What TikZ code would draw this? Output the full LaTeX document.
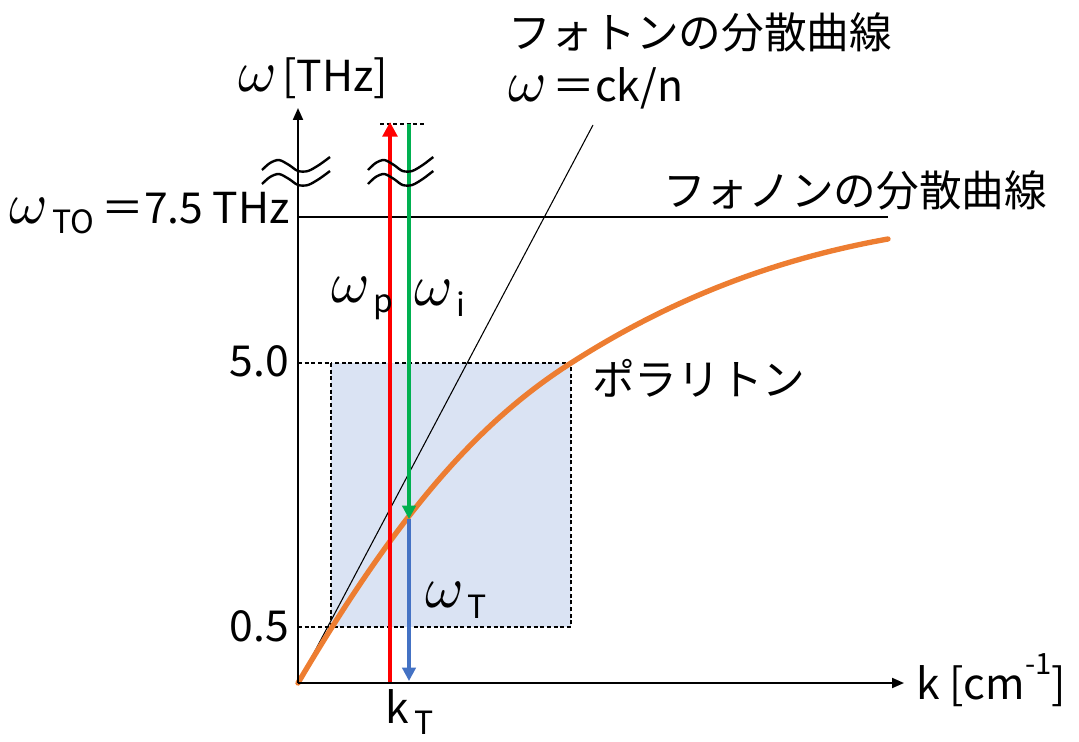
\documentclass[tikz,border=0pt]{standalone}
\usepackage{fontspec}
\usepackage{unicode-math}
\setmainfont{Noto Sans CJK JP}
\usetikzlibrary{arrows.meta}
\newcommand{\om}{{\fontsize{44}{48}\selectfont$\omega$}}
\newcommand{\lsub}[1]{\raisebox{-0.45ex}{\fontsize{24}{28}\selectfont\,#1}}
\definecolor{cred}{HTML}{FF0000}
\definecolor{cgreen}{HTML}{00B050}
\definecolor{cblue}{HTML}{4472C4}
\definecolor{corange}{HTML}{ED7D31}
\definecolor{cshade}{HTML}{DAE3F3}
\tikzset{
  lbl/.style={font=\fontsize{32}{38}\selectfont, inner sep=0pt, anchor=west},
  axisline/.style={line width=1.5pt, -{Triangle[length=9pt,width=7.5pt]}},
  guide/.style={line width=0.8pt, dash pattern=on 3pt off 2pt},
  squig/.style={line width=1.8pt},
}
\begin{document}
\begin{tikzpicture}[x=0.75pt, y=-0.75pt]
\useasboundingbox (0,0) rectangle (1079,742);
% coordinates
\coordinate (O) at (298,683);
\coordinate (Ytop) at (298,108);
\coordinate (Xend) at (904,683);
\coordinate (TOa) at (298,217);
\coordinate (TOb) at (888,217);
\coordinate (R1) at (331,363);
\coordinate (R2) at (571,627);
\coordinate (G5a) at (298,363);
\coordinate (G05a) at (298,627);
\coordinate (Ph) at (593,125);
\coordinate (Rb) at (390,683);
\coordinate (Rt) at (390,122);
\coordinate (Gt) at (409,124);
\coordinate (Gb) at (409,519);
\coordinate (Bb) at (409,681);
\coordinate (Da) at (380,124);
\coordinate (Db) at (425,124);
\coordinate (Pm) at (571,363);
\coordinate (Pe) at (888,239);
% shaded box
\fill[cshade] (R1) rectangle (R2);
\draw[guide] (R1) rectangle (R2);
\draw[guide] (G5a) -- (R1);
\draw[guide] (G05a) -- (R2 -| R1);
% omega_TO line
\draw[line width=1.1pt] (TOa) -- (TOb);
% photon line
\draw[line width=0.8pt] (O) -- (Ph);
% polariton curve
\draw[corange, line width=4pt, line cap=round] (O) .. controls (400,510) and (480,421) .. (Pm) .. controls (677,295) and (782,258) .. (Pe);
% dashed top
\draw[guide] (Da) -- (Db);
% arrows
\draw[cred, line width=3pt, -{Triangle[length=11pt,width=11pt]}] (Rb) -- (Rt);
\draw[cblue, line width=2.4pt, -{Triangle[length=10pt,width=10pt]}] (Gb) -- (Bb);
\draw[cgreen, line width=2.4pt, -{Triangle[length=10pt,width=10pt]}] (Gt) -- (Gb);
% axes
\draw[axisline] (O) -- (Ytop);
\draw[axisline] (O) -- (Xend);
% break marks
\foreach \dx/\sx in {0/1, 106/0.96} {
  \foreach \dy in {0,14} {
    \draw[squig, shift={(262+\dx,170+\dy)}, xscale=\sx] plot[smooth] coordinates {(0,0) (8,-7) (17,-10) (27,-5) (36,1) (46,1) (57,-5) (68,-13)};
  }
}
% labels
\node[lbl] (ylab) at (238,78) {\om\,[THz]};
\node[lbl, anchor=east] (wto) at (290,213) {\om\lsub{TO}\,＝7.5 THz};
\node[lbl, anchor=east] (v50) at (289,361) {5.0};
\node[lbl, anchor=east] (v05) at (289,626) {0.5};
\node[lbl] (xlab) at (916,680) {k [cm\raisebox{1.1ex}{\fontsize{22}{26}\selectfont -1}]};
\node[lbl] (kt) at (385,712) {k\lsub{T}};
\node[lbl] (wp) at (331,298) {\om\lsub{p}};
\node[lbl] (wi) at (414,298) {\om\lsub{i}};
\node[lbl] (wT) at (425,600) {\om\lsub{T}};
\node[lbl] (pol) at (592,378) {ポラリトン};
\node[lbl] (phon) at (663,190) {フォノンの分散曲線};
\node[lbl] (phot) at (508,32) {フォトンの分散曲線};
\node[lbl] (photeq) at (508,88) {\om\,＝ck/n};
\end{tikzpicture}
\end{document}
